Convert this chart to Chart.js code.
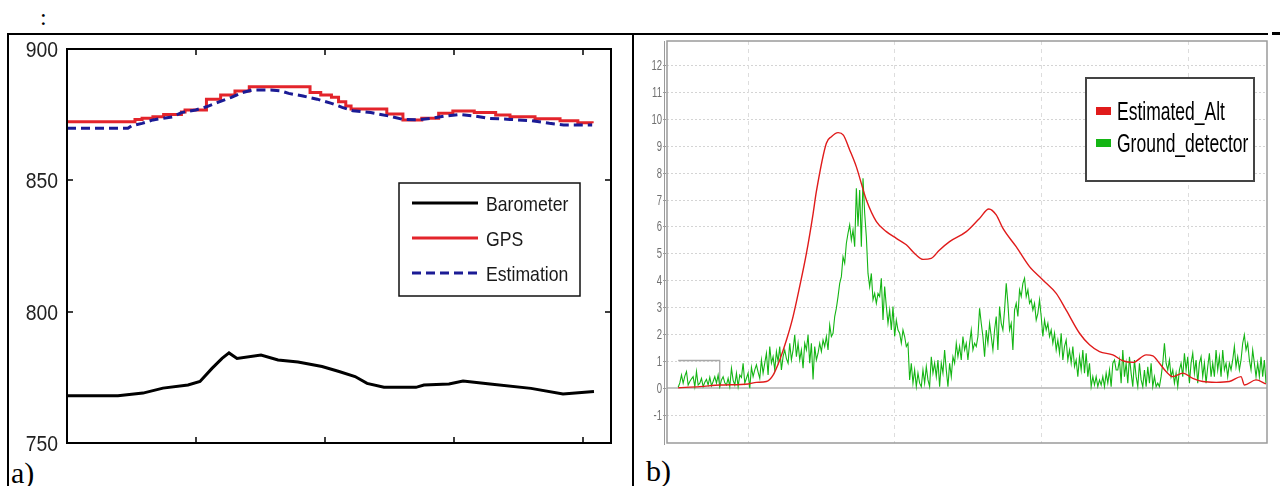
<!DOCTYPE html>
<html><head><meta charset="utf-8">
<script src="https://cdn.jsdelivr.net/npm/chart.js@4.4.1/dist/chart.umd.min.js"></script>
<style>
html,body{margin:0;padding:0;background:#fff;}
#wrap{position:relative;width:1280px;height:486px;overflow:hidden;background:#fff;}
canvas{position:absolute;top:0;}
#ca{left:0;} #cb{left:640px;}
.hl{position:absolute;background:#000;}
.lbl{position:absolute;font-family:"Liberation Serif","Times New Roman",serif;color:#000;line-height:1;}
</style></head><body>
<div id="wrap">
<div class="hl" style="left:8px;top:33px;width:1260px;height:2px"></div>
<div class="hl" style="left:1272px;top:32px;width:8px;height:3px"></div>
<div class="hl" style="left:7px;top:33px;width:2px;height:453px"></div>
<div class="hl" style="left:632px;top:33px;width:2px;height:453px"></div>
<div class="lbl" style="left:40px;top:5px;font-size:24px">:</div>
<div class="lbl" style="left:11px;top:458px;font-size:30px">a)</div>
<div class="lbl" style="left:646px;top:456px;font-size:30px">b)</div>
<canvas id="ca" width="640" height="486"></canvas>
<canvas id="cb" width="640" height="486"></canvas>
</div>
<script>
// ---------- Panel a) data ----------
const yTicksA = [750, 800, 850, 900];
const xTicksA = [1, 2, 3, 4];
const baroT = [0, 0.395, 0.589, 0.744, 0.938, 1.031, 1.124, 1.202, 1.256, 1.318, 1.504, 1.636, 1.791, 1.977, 2.109, 2.233, 2.326, 2.457, 2.705, 2.767, 2.961, 3.070, 3.279, 3.597, 3.845, 4.085];
const baroV = [768.0, 768.0, 769.0, 770.9, 772.1, 773.4, 778.4, 782.2, 784.3, 782.2, 783.5, 781.6, 780.8, 779.1, 777.2, 775.3, 772.7, 771.2, 771.2, 772.1, 772.5, 773.6, 772.5, 770.8, 768.7, 769.6];
const gpsT = [0, 0.527, 0.582, 0.666, 0.749, 0.887, 0.915, 1.081, 1.191, 1.302, 1.413, 1.884, 1.967, 2.050, 2.105, 2.161, 2.202, 2.479, 2.604, 2.750, 2.881, 2.991, 3.157, 3.323, 3.434, 3.628, 3.822, 3.960, 4.071];
const gpsV = [872.3, 873.2, 873.6, 874.2, 875.1, 876.0, 876.8, 880.9, 882.5, 884.0, 885.6, 883.4, 882.5, 881.6, 879.9, 878.3, 877.2, 875.3, 873.0, 873.6, 875.5, 876.4, 875.8, 874.9, 874.2, 873.4, 872.7, 871.9, 871.7];
const estT = [0, 0.472, 0.499, 0.582, 0.666, 0.823, 0.887, 0.998, 1.081, 1.164, 1.274, 1.357, 1.441, 1.579, 1.662, 1.718, 1.829, 1.939, 2.050, 2.133, 2.216, 2.354, 2.493, 2.604, 2.714, 2.825, 2.936, 3.047, 3.157, 3.268, 3.434, 3.600, 3.739, 3.850, 4.071];
const estV = [869.8, 869.8, 870.7, 871.7, 873.0, 874.2, 875.8, 876.8, 878.0, 879.6, 881.6, 883.4, 884.4, 884.4, 884.0, 883.1, 882.1, 880.9, 879.3, 877.8, 876.5, 875.8, 874.5, 873.2, 873.0, 873.6, 874.5, 875.1, 874.5, 873.6, 873.2, 872.7, 871.7, 871.1, 871.1];

// ---------- Panel b) data ----------
const yTicksB = [-1, 0, 1, 2, 3, 4, 5, 6, 7, 8, 9, 10, 11, 12];
const xTicksB = [1, 2, 3, 4];
const altT = [0.526, 0.673, 0.809, 1.003, 1.059, 1.127, 1.173, 1.218, 1.264, 1.309, 1.354, 1.400, 1.446, 1.468, 1.536, 1.570, 1.616, 1.652, 1.695, 1.740, 1.809, 1.877, 1.945, 2.013, 2.081, 2.149, 2.195, 2.251, 2.308, 2.376, 2.490, 2.580, 2.644, 2.694, 2.740, 2.830, 2.921, 3.012, 3.103, 3.171, 3.262, 3.330, 3.398, 3.489, 3.557, 3.627, 3.716, 3.762, 3.807, 3.852, 3.898, 3.966, 4.034, 4.102, 4.193, 4.283, 4.363, 4.386, 4.465, 4.533];
const altV = [0.02, 0.06, 0.12, 0.16, 0.22, 0.25, 0.49, 1.05, 1.79, 2.66, 3.77, 5.00, 6.49, 7.30, 9.09, 9.33, 9.48, 9.39, 8.84, 8.22, 6.98, 6.18, 5.81, 5.56, 5.32, 4.94, 4.78, 4.82, 5.13, 5.44, 5.81, 6.30, 6.65, 6.43, 5.93, 5.25, 4.51, 4.02, 3.52, 2.90, 2.04, 1.61, 1.36, 1.24, 1.02, 0.96, 1.24, 1.20, 0.93, 0.62, 0.43, 0.56, 0.37, 0.25, 0.22, 0.25, 0.43, 0.12, 0.31, 0.16];
const gndStart = 0.5257;
const gndStep = 0.011353;
const gndSeg1 = [0.04,0.20,0.49,0.19,0.45,0.62,0.12,0.25,0.35,0.43, 0.06,0.62,0.12,0.19,0.37,0.06,0.22,0.33,0.12,0.41, 0.09,0.25,0.43,0.19,0.49,0.06,0.31,0.43,0.20,0.12, 0.37,0.06,0.74,0.30,0.12,0.56,0.06,0.49,0.40,0.93, 0.19,0.37,0.56,0.00,0.78,0.43,0.68,0.87,0.60,0.37, 1.05,0.56,0.93,1.30,0.49,1.55,0.93,1.17,0.68,1.36, 0.99,1.55,0.68,1.17,1.42,1.10,0.93,1.67,1.05,1.42, 1.98,1.17,1.67,1.05,1.42,0.74,1.67,1.42,1.98,0.93, 1.67,0.33,1.55,1.05];
const gndSeg2 = [1.30,1.67,1.36,1.79,1.55,1.92,1.42,2.35,1.92,2.04, 2.66,2.97,3.40,3.89,4.14,4.88,4.64,5.38,5.75,6.06, 5.50,5.87,5.25,7.42,6.00,7.35,5.25,7.79,6.49,5.62, 4.26,3.77,4.26,3.28,3.52,3.15,3.52,3.40,4.08,2.53, 3.77,3.03,2.41,2.90,2.16,3.03,1.92,2.53,2.16,2.04, 1.67,2.16,1.92,1.55,1.67,0.31,0.93,0.19,0.68,0.06, 0.56,0.19,0.06,0.68,0.19,0.80,0.31,0.06,1.17,0.56, 0.93,0.43,1.05,0.06,0.93,0.56,1.42,0.68,0.06,0.93, 0.43,1.17,0.93,1.67,1.17,1.55,1.05,1.92,1.42,1.67];
const gndSeg3 = [1.05,1.67,2.16,1.42,1.67,1.55,1.92,2.97,2.41,1.92, 1.17,2.16,1.67,2.41,1.92,1.42,2.16,2.66,1.42,3.03, 2.41,2.16,2.90,3.89,3.15,2.16,2.41,1.42,2.90,3.15, 2.66,3.65,3.40,3.89,4.08,3.40,3.65,3.15,3.28,2.90, 3.15,2.53,2.78,3.28,2.66,1.92,2.53,2.16,2.41,1.92, 2.16,1.67,2.04,1.42,1.79,1.30,2.04,1.05,1.55,1.79, 1.05,1.42,0.93,1.55,0.80,1.05,0.43,1.17,0.68,1.42, 0.56,1.30,0.43,0.93,0.06,0.43,0.12,0.43,0.06,0.31, 0.12,0.43,0.06,0.56,0.19,0.68,0.06,0.93,1.05,0.68];
const gndSeg4 = [0.68,1.05,0.19,1.42,0.43,0.93,0.19,1.17,0.56,0.06, 1.05,0.43,0.06,0.93,0.31,0.06,0.68,0.06,0.80,0.19, 0.93,0.06,0.43,0.06,0.19,0.06,0.43,0.93,1.67,0.93, 0.68,1.05,0.43,0.68,0.19,0.56,0.06,0.68,0.93,0.43, 1.30,0.68,1.17,0.19,0.93,1.30,0.56,1.05,0.19,0.93, 1.17,0.43,0.93,0.19,0.80,1.30,0.43,0.93,0.43,1.42, 0.68,1.17,0.43,1.42,0.68,0.93,0.43,0.93,0.68,1.05, 1.55,0.80,1.17,0.68,1.05,1.67,1.98,1.42,1.67,1.05, 0.68,1.42,0.93,0.43,0.93,0.43,1.17,0.43,1.05,0.19];
const thrT = [0.526, 0.809];
const thrV = [1.03, 0];

// ---------- helpers ----------
const SANS = '"Liberation Sans", Arial, sans-serif';
const pts = (xs, ys) => xs.map((x, i) => ({x: x, y: ys[i]}));
const gnd = [].concat(gndSeg1, gndSeg2, gndSeg3, gndSeg4);
const gndPts = gnd.map((v, i) => ({x: gndStart + i * gndStep, y: v}));
function drawText(ctx, text, x, y, size, align, sx, color) {
  ctx.save();
  ctx.translate(x, y);
  ctx.scale(sx, 1);
  ctx.font = size + 'px ' + SANS;
  ctx.fillStyle = color;
  ctx.textAlign = align;
  ctx.textBaseline = 'alphabetic';
  ctx.fillText(text, 0, 0);
  ctx.restore();
}

// ---------- Panel a) ----------
const frameA = {
  id: 'frameA',
  afterDatasetsDraw(chart) {
    const {ctx, chartArea: a, scales: {x, y}} = chart;
    ctx.save();
    ctx.strokeStyle = '#000';
    ctx.lineWidth = 2;
    ctx.strokeRect(a.left, a.top, a.right - a.left, a.bottom - a.top);
    ctx.lineWidth = 1.5;
    ctx.beginPath();
    xTicksA.forEach(v => {
      const px = Math.round(x.getPixelForValue(v));
      ctx.moveTo(px, a.bottom); ctx.lineTo(px, a.bottom - 6);
      ctx.moveTo(px, a.top); ctx.lineTo(px, a.top + 6);
    });
    yTicksA.forEach(v => {
      const py = Math.round(y.getPixelForValue(v));
      ctx.moveTo(a.left, py); ctx.lineTo(a.left + 6, py);
      ctx.moveTo(a.right, py); ctx.lineTo(a.right - 6, py);
    });
    ctx.stroke();
    yTicksA.forEach(v => {
      drawText(ctx, String(v), a.left - 9, y.getPixelForValue(v) + 8, 22, 'right', 0.88, '#222');
    });
    // legend box
    const lx = 399, ly = 183, lw = 181, lh = 113;
    ctx.fillStyle = '#fff';
    ctx.fillRect(lx, ly, lw, lh);
    ctx.strokeStyle = '#111';
    ctx.lineWidth = 1.5;
    ctx.strokeRect(lx, ly, lw, lh);
    chart.data.datasets.forEach((ds, i) => {
      const yy = ly + 20 + i * 35;
      ctx.beginPath();
      ctx.strokeStyle = ds.borderColor;
      ctx.lineWidth = ds.borderWidth;
      ctx.setLineDash(ds.borderDash || []);
      ctx.moveTo(lx + 13, yy); ctx.lineTo(lx + 79, yy);
      ctx.stroke();
      ctx.setLineDash([]);
      drawText(ctx, ds.label, lx + 87, yy + 8, 21, 'left', 0.84, '#1a1a1a');
    });
    ctx.restore();
  }
};

new Chart(document.getElementById('ca'), {
  type: 'line',
  data: {datasets: [
    {label: 'Barometer', data: pts(baroT, baroV), borderColor: '#000000', borderWidth: 3, order: 2},
    {label: 'GPS', data: pts(gpsT, gpsV), borderColor: '#e3242b', borderWidth: 3, stepped: true, order: 1},
    {label: 'Estimation', data: pts(estT, estV), borderColor: '#1b1b95', borderWidth: 3, borderDash: [9, 5], order: 0}
  ]},
  options: {
    responsive: false, animation: false,
    elements: {point: {radius: 0}, line: {tension: 0}},
    layout: {padding: {left: 0, top: 49, right: 29, bottom: 43}},
    plugins: {legend: {display: false}, tooltip: {enabled: false}},
    scales: {
      x: {type: 'linear', display: false, min: 0, max: 4.217},
      y: {type: 'linear', min: 750, max: 900,
          afterBuildTicks: ax => { ax.ticks = yTicksA.map(v => ({value: v})); },
          afterFit: ax => { ax.width = 67; },
          grid: {display: false, drawTicks: false}, border: {display: false},
          ticks: {display: false}}
    }
  },
  plugins: [frameA]
});

// ---------- Panel b) ----------
const frameB = {
  id: 'frameB',
  beforeDatasetsDraw(chart) {
    const {ctx, chartArea: a, scales: {x, y}} = chart;
    ctx.save();
    ctx.lineWidth = 1;
    ctx.strokeStyle = '#d4d4d4';
    ctx.setLineDash([2, 2]);
    ctx.beginPath();
    yTicksB.forEach(v => {
      if (v === 0) return;
      const py = Math.round(y.getPixelForValue(v)) + 0.5;
      ctx.moveTo(a.left, py); ctx.lineTo(a.right, py);
    });
    ctx.stroke();
    ctx.strokeStyle = '#dddddd';
    ctx.setLineDash([4, 4]);
    ctx.beginPath();
    xTicksB.forEach(v => {
      const px = Math.round(x.getPixelForValue(v)) + 0.5;
      ctx.moveTo(px, a.top); ctx.lineTo(px, a.bottom);
    });
    ctx.stroke();
    ctx.setLineDash([]);
    ctx.strokeStyle = '#c4c4c4';
    ctx.lineWidth = 2;
    ctx.beginPath();
    const p0 = Math.round(y.getPixelForValue(0));
    ctx.moveTo(a.left, p0); ctx.lineTo(a.right, p0);
    ctx.stroke();
    ctx.restore();
  },
  afterDatasetsDraw(chart) {
    const {ctx, chartArea: a, scales: {y}} = chart;
    ctx.save();
    ctx.strokeStyle = '#9a9a9a';
    ctx.lineWidth = 1.5;
    ctx.strokeRect(a.left, a.top, a.right - a.left, a.bottom - a.top);
    ctx.beginPath();
    ctx.lineWidth = 1;
    ctx.moveTo(a.left - 2.5, a.top); ctx.lineTo(a.left - 2.5, a.bottom + 2);
    yTicksB.forEach(v => {
      const py = Math.round(y.getPixelForValue(v)) + 0.5;
      ctx.moveTo(a.left - 4, py); ctx.lineTo(a.left - 1, py);
    });
    ctx.stroke();
    yTicksB.forEach(v => {
      drawText(ctx, String(v), a.left - 5, y.getPixelForValue(v) + 5, 14, 'right', 0.68, '#707070');
    });
    // legend
    const lx = 446, ly = 78, lw = 168, lh = 103;
    ctx.fillStyle = '#fff';
    ctx.fillRect(lx, ly, lw, lh);
    ctx.strokeStyle = '#444';
    ctx.lineWidth = 2;
    ctx.strokeRect(lx, ly, lw, lh);
    chart.data.datasets.filter(ds => ds.label).forEach((ds, i) => {
      const yy = ly + 33 + i * 32;
      ctx.fillStyle = ds.borderColor;
      ctx.fillRect(lx + 10, yy - 4, 15, 8);
      drawText(ctx, ds.label, lx + 31, yy + 9, 25, 'left', 0.70, '#000');
    });
    ctx.restore();
  }
};

new Chart(document.getElementById('cb'), {
  type: 'line',
  data: {datasets: [
    {label: 'Estimated_Alt', data: pts(altT, altV), borderColor: '#e01b1b', borderWidth: 1.4, cubicInterpolationMode: 'monotone'},
    {label: 'Ground_detector', data: gndPts, borderColor: '#14b514', borderWidth: 1.1},
    {label: '', data: pts(thrT, thrV), borderColor: '#a8a8a8', borderWidth: 1.3, stepped: true}
  ]},
  options: {
    responsive: false, animation: false,
    elements: {point: {radius: 0}, line: {tension: 0}},
    layout: {padding: {left: 0, top: 41, right: 13, bottom: 43}},
    plugins: {legend: {display: false}, tooltip: {enabled: false}},
    scales: {
      x: {type: 'linear', display: false, min: 0.4496, max: 4.540},
      y: {type: 'linear', min: -2.03, max: 12.88,
          afterBuildTicks: ax => { ax.ticks = yTicksB.map(v => ({value: v})); },
          afterFit: ax => { ax.width = 27; },
          grid: {display: false, drawTicks: false},
          border: {display: false},
          ticks: {display: false}}
    }
  },
  plugins: [frameB]
});
</script>
</body></html>
